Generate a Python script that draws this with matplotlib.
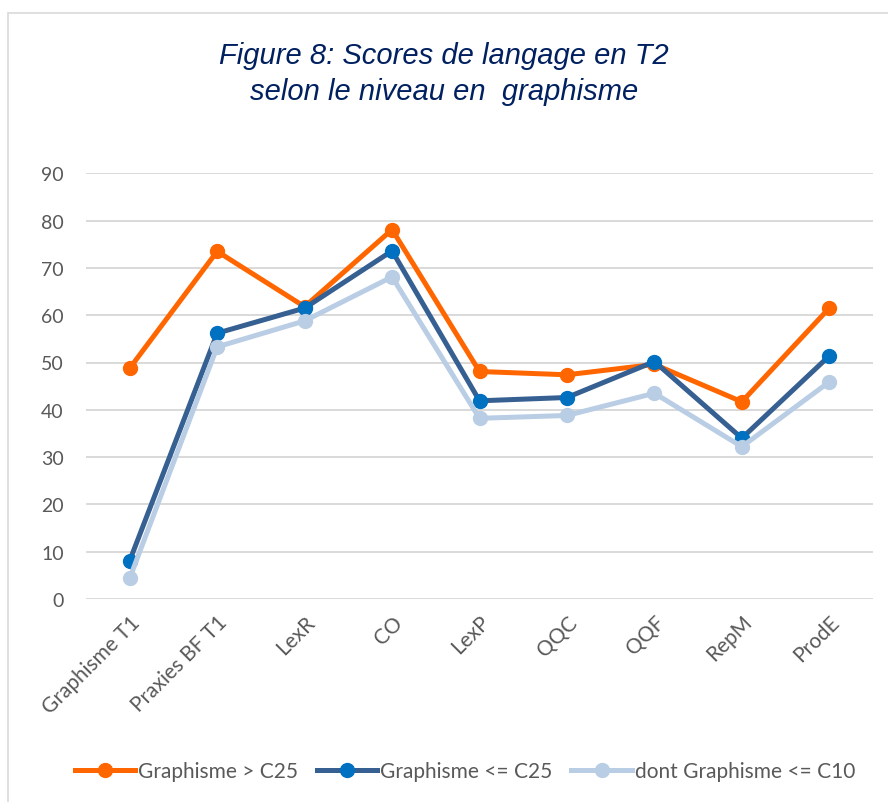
import matplotlib
matplotlib.use('Agg')
import matplotlib.pyplot as plt
from matplotlib.patches import Rectangle
import numpy as np

# data
categories = ['Graphisme T1', 'Praxies BF T1', 'LexR', 'CO', 'LexP', 'QQC', 'QQF', 'RepM', 'ProdE']
sup_c25 = [48.8, 73.5, 61.8, 78.1, 48.1, 47.4, 49.6, 41.7, 61.5]
inf_c25 = [8.1, 56.2, 61.5, 73.6, 41.9, 42.6, 50.2, 34.0, 51.4]
inf_c10 = [4.4, 53.3, 58.8, 68.1, 38.2, 38.8, 43.5, 32.2, 45.9]
series_names = ['Graphisme > C25', 'Graphisme <= C25', 'dont Graphisme <= C10']
yticks = [0, 10, 20, 30, 40, 50, 60, 70, 80, 90]

W, H = 888, 803
fig = plt.figure(figsize=(W/100, H/100), dpi=100)
fig.patch.set_facecolor('white')

# chart area border
fig.patches.append(Rectangle((8/W, -0.1), 1.2, 1 - 14/H + 0.1, transform=fig.transFigure,
                             fill=False, edgecolor='#D9D9D9', linewidth=1.2))

left, right = 86/W, 873/W
bottom, top = 1 - 600/H, 1 - 174.3/H
ax = fig.add_axes([left, bottom, right-left, top-bottom])

ind = np.arange(len(categories))
lw = 3.6
ms = 10
ax.plot(ind, sup_c25, color='#FF6600', lw=lw, marker='o', ms=ms,
        mfc='#FF6600', mec='#FF6600', label=series_names[0], zorder=3)
ax.plot(ind, inf_c25, color='#365F92', lw=lw, marker='o', ms=ms,
        mfc='#0070C0', mec='#0070C0', label=series_names[1], zorder=4)
ax.plot(ind, inf_c10, color='#B9CDE5', lw=lw, marker='o', ms=ms,
        mfc='#B9CDE5', mec='#B9CDE5', label=series_names[2], zorder=5)

ax.set_xlim(-0.5, len(categories) - 0.5)
ax.set_ylim(0, 90)
ax.set_yticks(yticks)
ax.yaxis.grid(True, color='#D9D9D9', lw=1.4)
ax.set_axisbelow(True)
for s in ax.spines.values():
    s.set_visible(False)
ax.tick_params(length=0)
ax.tick_params(axis='y', pad=16, labelsize=14, labelcolor='#595959')
ax.set_xticks(ind)
ax.set_xticklabels(categories, rotation=45, ha='right', rotation_mode='anchor',
                   fontsize=15, color='#595959')
ax.tick_params(axis='x', pad=9)
for t in ax.get_xticklabels() + ax.get_yticklabels():
    t.set_fontfamily('Lato')

fig.text(0.5, 1 - 74/H, 'Figure 8: Scores de langage en T2\nselon le niveau en  graphisme',
         ha='center', va='center', fontsize=21, style='italic', color='#002060',
         family='Liberation Sans', linespacing=1.35)

leg = fig.legend(loc='center', bbox_to_anchor=(465/W, 1 - 772/H), ncol=3, frameon=False,
                 prop={'family': 'Lato', 'size': 15}, handlelength=2.9, handletextpad=0.15,
                 columnspacing=0.9)
for t in leg.get_texts():
    t.set_color('#595959')

fig.savefig('out.png', dpi=100, facecolor='white')
